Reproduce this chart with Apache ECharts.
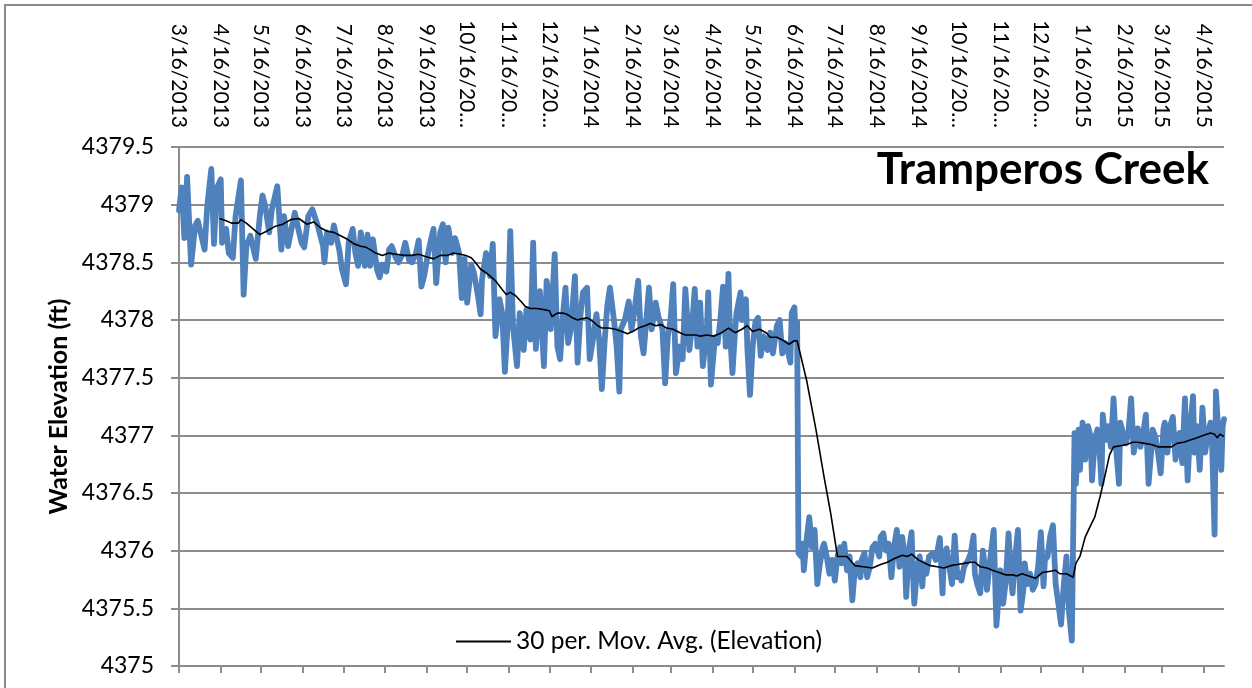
<!DOCTYPE html>
<html>
<head>
<meta charset="utf-8">
<title>Tramperos Creek</title>
<script src="https://cdn.jsdelivr.net/npm/echarts@6/dist/echarts.min.js"></script>
<style>
  html, body { margin: 0; padding: 0; background: #fff; }
  #chart { width: 1252px; height: 688px; }
</style>
</head>
<body>
<div id="chart"></div>
<script>
// daily categories, 3/16/2013 .. 5/1/2015
const startDate = Date.UTC(2013, 2, 16)
const dayCount = 777
const dates = []
for (let i = 0; i < dayCount; i++) {
  const d = new Date(startDate + i * 86400000)
  dates.push((d.getUTCMonth() + 1) + '/' + d.getUTCDate() + '/' + d.getUTCFullYear())
}

// [day offset from 3/16/2013, water elevation ft]
const elevation = [
  [0, 4378.95], [2, 4379.15], [4, 4378.71], [6, 4379.24], [9, 4378.48], [12, 4378.82], [14, 4378.86], [16, 4378.76],
  [19, 4378.61], [21, 4378.99], [24, 4379.31], [26, 4378.66], [28, 4379.14], [31, 4379.22], [32, 4378.67], [35, 4378.79],
  [37, 4378.58], [40, 4378.54], [42, 4378.90], [46, 4379.21], [48, 4378.22], [50, 4378.64], [53, 4378.73], [57, 4378.53],
  [60, 4378.90], [62, 4379.08], [64, 4378.99], [67, 4378.76], [69, 4378.96], [73, 4379.16], [76, 4378.61], [78, 4378.90],
  [81, 4378.64], [83, 4378.76], [86, 4378.93], [88, 4378.82], [91, 4378.67], [93, 4378.63], [96, 4378.90], [99, 4378.96],
  [103, 4378.82], [107, 4378.64], [108, 4378.50], [110, 4378.76], [113, 4378.67], [115, 4378.82], [119, 4378.61], [121, 4378.44],
  [124, 4378.31], [126, 4378.67], [129, 4378.79], [131, 4378.58], [133, 4378.47], [135, 4378.76], [138, 4378.47], [140, 4378.74],
  [142, 4378.47], [144, 4378.70], [147, 4378.44], [149, 4378.37], [151, 4378.48], [154, 4378.42], [156, 4378.61], [158, 4378.64],
  [161, 4378.54], [163, 4378.50], [166, 4378.57], [168, 4378.67], [171, 4378.51], [173, 4378.50], [176, 4378.58], [178, 4378.69],
  [180, 4378.29], [182, 4378.38], [185, 4378.58], [187, 4378.69], [189, 4378.79], [191, 4378.32], [194, 4378.76], [196, 4378.83],
  [198, 4378.50], [200, 4378.80], [203, 4378.58], [205, 4378.71], [208, 4378.58], [210, 4378.19], [212, 4378.53], [214, 4378.15],
  [217, 4378.48], [219, 4378.41], [222, 4378.21], [224, 4378.05], [225, 4378.35], [228, 4378.58], [231, 4378.38], [233, 4378.66],
  [235, 4377.86], [238, 4378.18], [240, 4378.06], [242, 4377.55], [244, 4377.95], [246, 4378.77], [248, 4377.95], [251, 4377.60],
  [253, 4378.06], [256, 4377.74], [258, 4378.09], [261, 4377.83], [263, 4378.67], [265, 4377.75], [268, 4378.25], [271, 4377.60],
  [273, 4378.34], [275, 4378.15], [276, 4377.92], [279, 4378.57], [281, 4377.77], [283, 4377.66], [285, 4378.03], [287, 4378.28],
  [289, 4377.80], [291, 4377.92], [294, 4378.38], [296, 4377.63], [298, 4378.03], [300, 4378.24], [303, 4378.28], [305, 4377.66],
  [307, 4377.80], [310, 4378.05], [312, 4377.83], [314, 4377.40], [316, 4377.80], [318, 4378.12], [320, 4378.28], [323, 4378.00],
  [325, 4377.77], [327, 4377.38], [328, 4377.92], [331, 4378.00], [334, 4378.16], [336, 4377.92], [338, 4378.06], [341, 4378.34],
  [343, 4377.86], [345, 4377.71], [347, 4378.00], [349, 4378.28], [351, 4377.92], [354, 4378.15], [356, 4378.03], [359, 4377.92],
  [361, 4377.45], [363, 4377.86], [365, 4378.00], [367, 4378.31], [369, 4377.54], [372, 4377.77], [374, 4377.66], [376, 4378.27],
  [379, 4377.74], [381, 4377.95], [383, 4378.27], [385, 4377.77], [387, 4378.15], [389, 4377.60], [392, 4377.92], [393, 4378.24],
  [395, 4377.44], [398, 4377.85], [400, 4377.80], [402, 4378.00], [404, 4378.29], [406, 4377.77], [408, 4378.40], [409, 4377.92],
  [411, 4377.54], [413, 4377.92], [414, 4378.06], [417, 4378.24], [418, 4378.00], [421, 4378.18], [422, 4377.77], [424, 4377.35],
  [426, 4377.77], [428, 4377.98], [430, 4378.02], [432, 4377.69], [434, 4377.86], [436, 4377.77], [437, 4377.74], [439, 4377.89],
  [441, 4377.71], [444, 4377.95], [446, 4378.00], [448, 4377.71], [450, 4377.80], [452, 4377.74], [454, 4377.63], [455, 4378.06],
  [457, 4378.11], [458, 4377.83], [459, 4377.98], [460, 4375.98], [462, 4375.95], [463, 4376.06], [464, 4375.83], [466, 4376.09],
  [468, 4376.29], [470, 4376.03], [472, 4376.18], [474, 4375.71], [476, 4375.89], [478, 4376.03], [479, 4376.06], [481, 4375.95],
  [483, 4375.80], [485, 4375.92], [487, 4375.74], [489, 4375.95], [491, 4376.03], [492, 4375.89], [494, 4376.06], [496, 4375.83],
  [498, 4375.95], [500, 4375.57], [502, 4375.86], [504, 4375.89], [506, 4375.77], [507, 4375.92], [509, 4375.98], [511, 4375.77],
  [513, 4375.86], [515, 4376.03], [517, 4376.06], [520, 4375.95], [521, 4376.12], [523, 4376.15], [525, 4376.00], [527, 4376.06],
  [529, 4375.77], [531, 4376.03], [533, 4376.18], [535, 4375.86], [537, 4376.12], [539, 4375.95], [540, 4375.60], [542, 4376.00],
  [544, 4376.16], [545, 4375.83], [546, 4375.54], [548, 4375.83], [550, 4375.95], [552, 4375.69], [553, 4375.89], [555, 4375.80],
  [557, 4375.95], [560, 4375.98], [562, 4375.92], [565, 4376.11], [567, 4375.63], [568, 4375.95], [570, 4376.02], [572, 4375.86],
  [574, 4375.71], [576, 4376.13], [578, 4375.77], [580, 4375.80], [581, 4375.74], [583, 4375.86], [586, 4375.92], [588, 4375.98],
  [590, 4376.13], [591, 4375.80], [593, 4375.70], [595, 4375.63], [597, 4376.00], [599, 4375.80], [600, 4375.66], [602, 4375.89],
  [605, 4376.18], [607, 4375.35], [609, 4375.66], [610, 4375.83], [612, 4375.54], [614, 4375.74], [616, 4376.15], [618, 4375.74],
  [619, 4375.63], [621, 4375.95], [623, 4376.18], [625, 4375.48], [627, 4375.66], [628, 4375.89], [630, 4375.71], [632, 4375.80],
  [634, 4375.66], [636, 4375.71], [638, 4375.86], [640, 4376.16], [642, 4375.69], [643, 4375.92], [645, 4375.95], [647, 4376.13],
  [649, 4376.22], [651, 4375.71], [653, 4375.54], [655, 4375.36], [657, 4375.70], [659, 4375.95], [661, 4375.46], [663, 4375.22],
  [665, 4377.02], [666, 4376.58], [668, 4377.05], [669, 4376.70], [671, 4377.11], [673, 4376.79], [675, 4377.08], [677, 4376.99],
  [678, 4376.61], [680, 4376.96], [682, 4377.05], [684, 4376.79], [685, 4376.58], [686, 4377.18], [688, 4376.96], [690, 4377.08],
  [692, 4376.90], [694, 4377.32], [696, 4376.87], [698, 4376.58], [699, 4377.11], [701, 4377.02], [703, 4376.93], [705, 4377.02],
  [707, 4377.32], [709, 4376.85], [711, 4376.99], [712, 4377.06], [714, 4376.90], [716, 4377.02], [718, 4377.18], [720, 4376.58],
  [722, 4376.87], [723, 4377.05], [725, 4376.99], [727, 4376.85], [729, 4376.67], [731, 4377.05], [732, 4377.11], [734, 4376.85],
  [736, 4377.08], [738, 4377.16], [740, 4376.79], [741, 4376.93], [743, 4377.02], [745, 4376.76], [747, 4377.32], [749, 4376.61],
  [751, 4377.08], [753, 4377.34], [754, 4376.85], [756, 4377.08], [758, 4376.70], [760, 4377.24], [762, 4376.85], [764, 4377.02],
  [766, 4377.11], [767, 4376.99], [769, 4376.14], [770, 4377.38], [772, 4376.99], [774, 4376.70], [775, 4377.08], [776, 4377.14]
]

// 30 per. moving average
const movingAvg = [
  [30, 4378.88], [35, 4378.86], [39, 4378.84], [44, 4378.84], [46, 4378.87], [50, 4378.84], [55, 4378.79], [60, 4378.74],
  [65, 4378.77], [71, 4378.81], [77, 4378.83], [83, 4378.87], [89, 4378.88], [95, 4378.83], [100, 4378.85], [105, 4378.80],
  [110, 4378.77], [115, 4378.76], [120, 4378.73], [125, 4378.70], [130, 4378.66], [135, 4378.64], [139, 4378.63], [142, 4378.61],
  [146, 4378.58], [151, 4378.56], [156, 4378.58], [161, 4378.57], [167, 4378.56], [173, 4378.56], [178, 4378.57], [183, 4378.55],
  [189, 4378.53], [194, 4378.56], [199, 4378.56], [204, 4378.58], [209, 4378.57], [213, 4378.56], [217, 4378.54], [220, 4378.50],
  [224, 4378.44], [228, 4378.41], [231, 4378.38], [235, 4378.34], [239, 4378.28], [243, 4378.22], [246, 4378.24], [250, 4378.21],
  [254, 4378.16], [257, 4378.12], [261, 4378.10], [266, 4378.10], [271, 4378.09], [275, 4378.08], [277, 4378.03], [281, 4378.06],
  [285, 4378.06], [288, 4378.05], [292, 4378.02], [296, 4378.00], [299, 4378.01], [303, 4378.02], [307, 4377.99], [311, 4377.95],
  [314, 4377.93], [319, 4377.93], [324, 4377.92], [329, 4377.90], [333, 4377.88], [337, 4377.90], [341, 4377.93], [346, 4377.95],
  [350, 4377.97], [354, 4377.95], [358, 4377.96], [362, 4377.93], [367, 4377.92], [372, 4377.89], [376, 4377.87], [380, 4377.87],
  [384, 4377.87], [387, 4377.86], [392, 4377.87], [397, 4377.86], [403, 4377.89], [408, 4377.93], [413, 4377.89], [418, 4377.92],
  [422, 4377.95], [426, 4377.90], [431, 4377.92], [436, 4377.89], [439, 4377.85], [444, 4377.85], [449, 4377.82], [453, 4377.79],
  [457, 4377.82], [459, 4377.82], [466, 4377.48], [473, 4377.05], [479, 4376.64], [484, 4376.32], [489, 4375.95], [496, 4375.95],
  [502, 4375.87], [508, 4375.86], [515, 4375.85], [521, 4375.88], [526, 4375.90], [531, 4375.93], [537, 4375.96], [541, 4375.95],
  [544, 4375.97], [549, 4375.92], [554, 4375.89], [558, 4375.87], [563, 4375.86], [568, 4375.85], [573, 4375.87], [578, 4375.88],
  [583, 4375.89], [588, 4375.90], [591, 4375.90], [595, 4375.86], [600, 4375.85], [604, 4375.83], [609, 4375.81], [614, 4375.79],
  [619, 4375.79], [622, 4375.78], [626, 4375.80], [631, 4375.78], [636, 4375.76], [641, 4375.81], [646, 4375.82], [651, 4375.83],
  [654, 4375.80], [659, 4375.80], [664, 4375.77], [666, 4375.89], [669, 4375.95], [673, 4376.12], [677, 4376.22], [680, 4376.29],
  [684, 4376.47], [688, 4376.67], [691, 4376.83], [694, 4376.90], [699, 4376.91], [704, 4376.92], [708, 4376.94], [712, 4376.94],
  [717, 4376.93], [722, 4376.92], [727, 4376.90], [732, 4376.90], [737, 4376.90], [741, 4376.93], [746, 4376.94], [751, 4376.96],
  [756, 4376.98], [761, 4377.00], [766, 4377.02], [769, 4377.01], [771, 4376.98], [773, 4377.01], [776, 4376.99]
]

const font = 'Lato, "Open Sans", sans-serif'
const gridColor = '#8c8c8c'
const isLabelDay = (index, value) => value.split('/')[1] === '16'

const chart = echarts.init(document.getElementById('chart'))

chart.setOption({
  animation: false,
  backgroundColor: '#fff',
  textStyle: { fontFamily: font },
  graphic: [{
    // outer chart border (only left + top are inside the picture)
    type: 'rect',
    shape: { x: 5, y: 5, width: 1400, height: 900 },
    style: { fill: 'none', stroke: '#8a8a8a', lineWidth: 2 },
    silent: true
  }],
  title: {
    text: 'Tramperos Creek',
    right: 38,
    top: 143,
    textStyle: { fontFamily: font, fontSize: 44, fontWeight: 'bold', color: '#000' }
  },
  legend: {
    data: ['30 per. Mov. Avg. (Elevation)'],
    left: 451,
    top: 624,
    icon: 'rect',
    itemWidth: 55,
    itemHeight: 2,
    itemGap: 6,
    textStyle: { fontFamily: font, fontSize: 24.5, color: '#000' }
  },
  grid: {
    left: 179,
    right: 28,
    top: 147,
    bottom: 22,
    containLabel: false
  },
  xAxis: [{
    // labels along the top
    type: 'category',
    position: 'top',
    data: dates,
    boundaryGap: false,
    axisLine: { show: false },
    axisTick: { show: false },
    splitLine: { show: false },
    axisLabel: {
      interval: isLabelDay,
      rotate: 90,
      margin: 19,
      width: 117,
      overflow: 'truncate',
      ellipsis: '…',
      fontFamily: font,
      fontSize: 21,
      color: '#000'
    }
  }, {
    // tick marks along the bottom
    type: 'category',
    position: 'bottom',
    data: dates,
    boundaryGap: false,
    axisLine: { show: true, lineStyle: { color: gridColor, width: 2 } },
    axisTick: { show: true, interval: isLabelDay, inside: false, length: 7, lineStyle: { color: gridColor, width: 2 } },
    axisLabel: { show: false },
    splitLine: { show: false }
  }],
  yAxis: {
    type: 'value',
    min: 4375,
    max: 4379.5,
    interval: 0.5,
    name: 'Water Elevation (ft)',
    nameLocation: 'middle',
    nameRotate: 90,
    nameGap: 108,
    nameTextStyle: { fontFamily: font, fontSize: 25, fontWeight: 'bold', color: '#000' },
    axisLine: { show: true, lineStyle: { color: gridColor, width: 2 } },
    axisTick: { show: true, length: 8, lineStyle: { color: gridColor, width: 2 } },
    axisLabel: {
      margin: 25,
      fontFamily: font,
      fontSize: 23,
      color: '#000',
      formatter: v => String(v)
    },
    splitLine: { show: true, lineStyle: { color: gridColor, width: 2 } }
  },
  series: [{
    name: 'Elevation',
    type: 'line',
    xAxisIndex: 1,
    data: elevation,
    showSymbol: false,
    silent: true,
    lineStyle: { color: '#4F81BD', width: 5.8, join: 'round', cap: 'round' },
    itemStyle: { color: '#4F81BD' }
  }, {
    name: '30 per. Mov. Avg. (Elevation)',
    type: 'line',
    xAxisIndex: 1,
    data: movingAvg,
    showSymbol: false,
    silent: true,
    z: 3,
    lineStyle: { color: '#000', width: 1.6, join: 'round' },
    itemStyle: { color: '#000' }
  }]
})
</script>
</body>
</html>
